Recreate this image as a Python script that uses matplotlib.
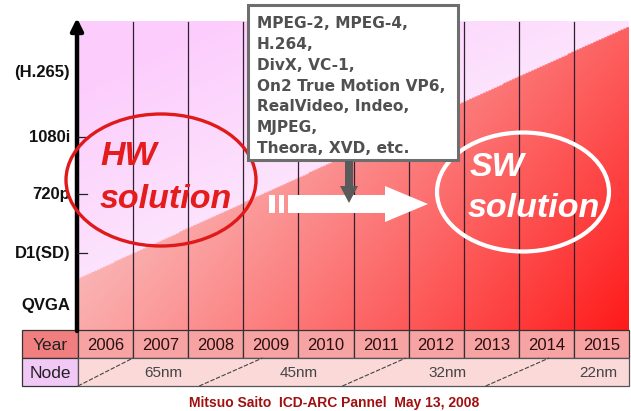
import numpy as np
import matplotlib
matplotlib.use("Agg")
import matplotlib.pyplot as plt
from matplotlib.patches import Rectangle, Ellipse, Polygon

plt.rcParams['font.family'] = ['Liberation Sans', 'DejaVu Sans']

# ---- data ----
years = ["2006", "2007", "2008", "2009", "2010", "2011", "2012", "2013", "2014", "2015"]
nodes = ["65nm", "45nm", "32nm", "22nm"]
node_label_x = [1.55, 4.0, 6.7, 9.45]          # position in year-columns
node_split_x = [0.0, 2.2, 4.8, 7.4]            # lower end of diagonal separators (columns)
resolutions = ["QVGA", "D1(SD)", "720p", "1080i", "(H.265)"]
res_level = [0.08, 0.25, 0.44, 0.625, 0.835]     # fraction of axis height
res_ticks = [False, True, True, True, False]
codecs = ["MPEG-2, MPEG-4,", "H.264,", "DivX, VC-1,", "On2 True Motion VP6,",
          "RealVideo, Indeo,", "MJPEG,", "Theora, XVD, etc."]

# ---- layout (pixels) ----
W, H = 631, 411
X0, X1 = 78, 629
Y0, Y1 = 22, 330
colw = (X1 - X0) / len(years)

fig = plt.figure(figsize=(W / 100, H / 100), dpi=100)
ax = fig.add_axes([0, 0, 1, 1])
ax.set_xlim(0, W)
ax.set_ylim(H, 0)
ax.axis('off')

# ---- background gradient ----
xs = np.linspace(X0, X1, 400)
ys = np.linspace(Y0, Y1, 250)
XX, YY = np.meshgrid(xs, ys)
ydiag = 279 - (XX - X0) * (252 / (X1 - X0))
below = YY > ydiag
# pink upper region
tp = np.clip((ydiag - YY) / 200, 0, 1)
pink_far = np.array([0.99, 0.80, 0.99])
pink_near = np.array([0.99, 0.89, 0.99])
pink = pink_near + (pink_far - pink_near) * tp[..., None]
# red lower region
tr = np.clip(0.75 * (XX - X0) / (X1 - X0) + 0.35 * (YY - Y0) / (Y1 - Y0) - 0.1, 0, 1) ** 1.2
red_light = np.array([0.98, 0.80, 0.80])
red_dark = np.array([1.0, 0.10, 0.10])
red = red_light + (red_dark - red_light) * tr[..., None]
img = np.where(below[..., None], red, pink)
ax.imshow(img, extent=(X0, X1, Y1, Y0), aspect='auto', interpolation='bilinear', zorder=0)

# vertical column lines
for i in range(1, len(years)):
    x = X0 + i * colw
    ax.plot([x, x], [Y0, Y1], color='#302030', lw=0.9, zorder=1)

# y axis with arrow
ax.annotate('', xy=(77, 18), xytext=(77, Y1 + 1),
            arrowprops=dict(arrowstyle='-|>', lw=3.2, color='black', mutation_scale=18,
                            shrinkA=0, shrinkB=0), zorder=5)
for lab, lv, tk in zip(resolutions, res_level, res_ticks):
    y = Y1 - lv * (Y1 - Y0)
    ax.text(70, y, lab, ha='right', va='center', fontsize=12, fontweight='bold',
            color='#111111', zorder=6)
    if tk:
        ax.plot([78, 87], [y, y], color='#222222', lw=0.9, zorder=5)

# ---- codec box ----
ax.add_patch(Rectangle((248, 5), 210, 155, fc='white', ec='#6e6e6e', lw=2.2, zorder=7))
for i, c in enumerate(codecs):
    ax.text(257, 24 + i * 20.7, c, ha='left', va='center', fontsize=11.1,
            fontweight='bold', color='#505050', family=['DejaVu Sans'], zorder=8)

# gray down arrow
ax.add_patch(Polygon([(345, 161), (353, 161), (353, 186), (358, 186), (349, 203),
                      (340, 186), (345, 186)], closed=True, fc='#5a5a5a', ec='none', zorder=8))

# white right arrow
for x0, x1 in [(269, 275), (279, 284)]:
    ax.add_patch(Rectangle((x0, 195), x1 - x0, 18, fc='white', ec='none', zorder=4))
ax.add_patch(Polygon([(288, 195), (385, 195), (385, 186), (428, 204), (385, 222),
                      (385, 213), (288, 213)], closed=True, fc='white', ec='none', zorder=4))

# HW ellipse
ax.add_patch(Ellipse((161, 180), 190, 132, fill=False, ec='#e01a1a', lw=2.4, zorder=6))
ax.text(129, 156, "HW", fontsize=24.5, fontweight='bold', style='italic', color='#e51c1c',
        ha='center', va='center', zorder=7)
ax.text(166, 199, "solution", fontsize=24.5, fontweight='bold', style='italic', color='#e51c1c',
        ha='center', va='center', zorder=7)

# SW ellipse
ax.add_patch(Ellipse((523, 192), 172, 119, fill=False, ec='white', lw=3, zorder=6))
ax.text(497, 167, "SW", fontsize=24.5, fontweight='bold', style='italic', color='white',
        ha='center', va='center', zorder=7)
ax.text(534, 208, "solution", fontsize=24.5, fontweight='bold', style='italic', color='white',
        ha='center', va='center', zorder=7)

# ---- table ----
TY0, TY1, TY2 = 330, 358, 386
TL = 22
ax.add_patch(Rectangle((TL, TY0), X0 - TL, TY1 - TY0, fc='#f27f7f', ec='#333333', lw=0.9, zorder=3))
ax.add_patch(Rectangle((TL, TY1), X0 - TL, TY2 - TY1, fc='#f2c8f6', ec='#333333', lw=0.9, zorder=3))
ax.text((TL + X0) / 2, (TY0 + TY1) / 2 + 1, "Year", ha='center', va='center', fontsize=12.5,
        color='#222222', zorder=4)
ax.text((TL + X0) / 2, (TY1 + TY2) / 2 + 1, "Node", ha='center', va='center', fontsize=12.5,
        color='#222222', zorder=4)
for i, yr in enumerate(years):
    x = X0 + i * colw
    ax.add_patch(Rectangle((x, TY0), colw, TY1 - TY0, fc='#f7a3a3', ec='#333333', lw=0.9, zorder=3))
    ax.text(x + colw / 2, (TY0 + TY1) / 2 + 1, yr, ha='center', va='center', fontsize=12,
            color='#2a1010', zorder=4)
ax.add_patch(Rectangle((X0, TY1), X1 - X0, TY2 - TY1, fc='#fbd9d9', ec='#555555', lw=0.9, zorder=3))
for sx in node_split_x:
    xa = X0 + sx * colw
    ax.plot([xa, xa + colw * 1.15 if sx > 0 else xa + colw], [TY2, TY1], color='#444444',
            lw=0.8, ls=(0, (4, 1.5)), zorder=4)
for lab, lx in zip(nodes, node_label_x):
    ax.text(X0 + lx * colw, (TY1 + TY2) / 2 + 1, lab, ha='center', va='center', fontsize=11,
            color='#444444', zorder=4)

ax.text(334, 403, "Mitsuo Saito  ICD-ARC Pannel  May 13, 2008", ha='center', va='center',
        fontsize=10, fontweight='bold', color='#a01010', zorder=4)

fig.savefig("out.png", dpi=100)
